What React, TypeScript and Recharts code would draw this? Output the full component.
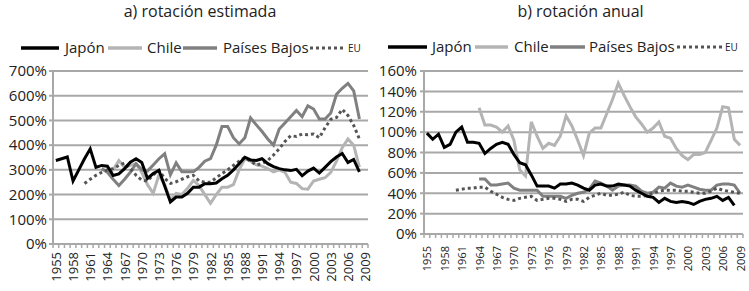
import React from "react";
import { LineChart, Line, XAxis, YAxis, CartesianGrid } from "recharts";

const years = [
  1955, 1956, 1957, 1958, 1959, 1960, 1961, 1962, 1963, 1964,
  1965, 1966, 1967, 1968, 1969, 1970, 1971, 1972, 1973, 1974,
  1975, 1976, 1977, 1978, 1979, 1980, 1981, 1982, 1983, 1984,
  1985, 1986, 1987, 1988, 1989, 1990, 1991, 1992, 1993, 1994,
  1995, 1996, 1997, 1998, 1999, 2000, 2001, 2002, 2003, 2004,
  2005, 2006, 2007, 2008, 2009,
];

// a) rotación estimada (%)
const estJapon = [
  338, 345, 352, 255, 300, 345, 385, 310, 318, 315,
  277, 284, 305, 331, 345, 330, 265, 285, 298, 235,
  170, 190, 190, 205, 230, 230, 244, 244, 247, 264,
  278, 300, 325, 351, 340, 338, 345, 325, 313, 305,
  300, 297, 302, 276, 295, 307, 287, 310, 333, 352,
  366, 330, 342, 292, null,
];
const estChile = [
  null, null, null, null, null, null, null, null, null,
  290, 300, 338, 310, 318, 325, 290, 240, 205, 280,
  240, 178, 205, 200, 225, 257, 237, 200, 165, 200,
  230, 230, 240, 300, 345, 335, 320, 315, 305, 292,
  300, 290, 250, 245, 224, 222, 255, 262, 268, 290,
  335, 390, 425, 400, 311, null,
];
const estPaisesBajos = [
  null, null, null, null, null, null, null, null,
  305, 290, 262, 237, 262, 290, 325, 300, 295, 320,
  345, 365, 280, 328, 292, 292, 292, 310, 335, 345,
  400, 475, 475, 430, 405, 430, 510, 482, 455, 425,
  400, 465, 490, 515, 540, 515, 559, 546, 506, 506,
  530, 606, 630, 650, 620, 506, null,
];
const estEU = [
  null, null, null, null, null,
  245, 262, 278, 290, 300, 305, 318, 328, 305, 278,
  258, 255, 280, 298, 265, 245, 252, 262, 272, 278,
  255, 250, 250, 268, 285, 300, 318, 335, 350, 335,
  320, 325, 338, 360, 385, 415, 438, 435, 445, 442,
  445, 430, 470, 505, 512, 545, 520, 480, 425, null,
];

// b) rotación anual (%)
const anuJapon = [
  99, 93, 98, 85, 88, 100, 105, 90, 90, 89,
  79, 84, 88, 90, 88, 78, 70, 68, 58, 47,
  47, 47, 45, 49, 49, 50, 48, 45, 43, 48,
  49, 47, 47, 49, 48, 47, 43, 40, 37, 36,
  31, 35, 32, 31, 32, 31, 29, 32, 34, 35,
  37, 33, 36, 28, null,
];
const anuChile = [
  null, null, null, null, null, null, null, null, null,
  124, 107, 107, 105, 100, 106, 92, 63, 57, 110,
  96, 84, 89, 87, 96, 116, 106, 92, 77, 99,
  104, 104, 118, 132, 148, 136, 125, 115, 108, 100,
  104, 110, 96, 94, 84, 77, 73, 78, 78, 80,
  92, 104, 125, 124, 93, 87,
];
const anuPaisesBajos = [
  null, null, null, null, null, null, null, null, null,
  54, 54, 48, 48, 49, 50, 45, 43, 43, 43,
  43, 37, 37, 37, 37, 35, 38, 40, 41, 44,
  52, 50, 47, 43, 47, 48, 48, 47, 42, 40,
  41, 46, 45, 50, 47, 46, 48, 46, 44, 43,
  43, 48, 49, 49, 48, 40,
];
const anuEU = [
  null, null, null, null, null,
  43, 44, 45, 45, 46, 46, 42, 39, 36, 34,
  33, 35, 36, 37, 33, 34, 35, 35, 34, 32,
  34, 34, 32, 36, 38, 40, 38, 38, 39, 41,
  38, 37, 37, 38, 40, 42, 43, 43, 43, 42,
  42, 41, 40, 40, 42, 45, 43, 42, 41, 40,
];

const estTicks = [0, 100, 200, 300, 400, 500, 600, 700];
const anuTicks = [0, 20, 40, 60, 80, 100, 120, 140, 160];

const FONT = "'Open Sans', sans-serif";
const GRID = "#a8a8a8";
const COLORS = { jp: "#000000", cl: "#b4b4b4", nl: "#808080", us: "#555555" };

const buildRows = (jp: any[], cl: any[], nl: any[], us: any[]) =>
  years.map((y, i) => ({ year: String(y), jp: jp[i], cl: cl[i], nl: nl[i], us: us[i] }));

const estData = buildRows(estJapon, estChile, estPaisesBajos, estEU);
const anuData = buildRows(anuJapon, anuChile, anuPaisesBajos, anuEU);

// every category gets a tick mark, every 3rd gets a rotated label
const makeTick = (step: number, fontSize: number, gap: number) => (props: any) => {
  const { x, y, payload, index } = props;
  const last = index === years.length - 1;
  return (
    <g>
      <line x1={x - step / 2} x2={x - step / 2} y1={y} y2={y + 4} stroke={GRID} strokeWidth={1.5} />
      {last && <line x1={x + step / 2} x2={x + step / 2} y1={y} y2={y + 4} stroke={GRID} strokeWidth={1.5} />}
      {index % 3 === 0 && (
        <text
          transform={`translate(${x},${y + gap}) rotate(-90)`}
          textAnchor="end"
          dominantBaseline="central"
          fontSize={fontSize}
          fontFamily={FONT}
          fill="#222"
        >
          {payload.value}
        </text>
      )}
    </g>
  );
};

const Series = () => null;

const renderLines = () => [
  <Line key="cl" dataKey="cl" stroke={COLORS.cl} strokeWidth={3} dot={false} isAnimationActive={false} />,
  <Line key="nl" dataKey="nl" stroke={COLORS.nl} strokeWidth={3} dot={false} isAnimationActive={false} />,
  <Line key="us" dataKey="us" stroke={COLORS.us} strokeWidth={3} strokeDasharray="3 3" dot={false} isAnimationActive={false} />,
  <Line key="jp" dataKey="jp" stroke={COLORS.jp} strokeWidth={3} dot={false} isAnimationActive={false} />,
];

interface LegendPos {
  lines: number[][];
  texts: number[];
  top: number;
}

const legendLabels = ["Japón", "Chile", "Países Bajos", "EU"];
const legendColors = [COLORS.jp, COLORS.cl, COLORS.nl, COLORS.us];

const ChartLegend: React.FC<LegendPos> = ({ lines, texts, top }) => (
  <>
    {lines.map(([x1, x2], i) => (
      <svg
        key={`l${i}`}
        width={x2 - x1}
        height={6}
        style={{ position: "absolute", left: x1, top: top - 3 }}
      >
        <line
          x1={0}
          x2={x2 - x1}
          y1={3}
          y2={3}
          stroke={legendColors[i]}
          strokeWidth={i === 3 ? 3 : 3.5}
          strokeDasharray={i === 3 ? "3 3" : undefined}
        />
      </svg>
    ))}
    {texts.map((x, i) => (
      <span
        key={`t${i}`}
        style={{
          position: "absolute",
          left: x,
          top: i === 3 ? top - 7 : top - 11,
          fontFamily: FONT,
          fontSize: i === 3 ? 10 : 15,
          lineHeight: i === 3 ? "14px" : "20px",
          color: "#222",
          whiteSpace: "nowrap",
        }}
      >
        {legendLabels[i]}
      </span>
    ))}
  </>
);

const titleStyle: React.CSSProperties = {
  position: "absolute",
  top: 0,
  fontFamily: FONT,
  fontSize: 16,
  lineHeight: "22px",
  color: "#222",
  textAlign: "center",
};

export default function App() {
  return (
    <div style={{ position: "absolute", left: 0, top: 0, width: 749, height: 291, background: "#fff" }}>
      <div style={{ ...titleStyle, left: 0, width: 400 }}>a) rotación estimada</div>
      <div style={{ ...titleStyle, left: 480, width: 201 }}>b) rotación anual</div>

      <ChartLegend
        top={48}
        lines={[[21, 59], [108, 142], [183, 217], [310, 343]]}
        texts={[65, 147, 223, 348]}
      />
      <ChartLegend
        top={47}
        lines={[[388, 427], [475, 508], [550, 585], [677, 723]]}
        texts={[432, 514, 589, 725]}
      />

      <div style={{ position: "absolute", left: 0, top: 0 }}>
        <LineChart width={374} height={291} data={estData} margin={{ top: 71, right: 6, bottom: 0, left: 0 }}>
          <CartesianGrid vertical={false} stroke={GRID} strokeWidth={2} />
          <XAxis
            dataKey="year"
            height={47}
            interval={0}
            tickSize={0}
            tickMargin={0}
            tickLine={false}
            padding={{ left: 2.86, right: 2.86 }}
            axisLine={{ stroke: GRID, strokeWidth: 2 }}
            tick={makeTick(315 / 55, 13, 8)}
          />
          <YAxis
            width={53}
            domain={[0, 700]}
            ticks={estTicks}
            interval={0}
            tickFormatter={(v) => `${v}%`}
            tickSize={4}
            tickMargin={2}
            axisLine={{ stroke: GRID, strokeWidth: 2 }}
            tickLine={{ stroke: GRID, strokeWidth: 2 }}
            tick={{ fontSize: 15, fontFamily: FONT, fill: "#222" }}
          />
          {renderLines()}
        </LineChart>
      </div>

      <div style={{ position: "absolute", left: 374, top: 0 }}>
        <LineChart width={375} height={291} data={anuData} margin={{ top: 71, right: 6, bottom: 0, left: 0 }}>
          <CartesianGrid vertical={false} stroke={GRID} strokeWidth={2} />
          <XAxis
            dataKey="year"
            height={57}
            interval={0}
            tickSize={0}
            tickMargin={0}
            tickLine={false}
            padding={{ left: 2.9, right: 2.9 }}
            axisLine={{ stroke: GRID, strokeWidth: 2 }}
            tick={makeTick(319 / 55, 11, 12)}
          />
          <YAxis
            width={50}
            domain={[0, 160]}
            ticks={anuTicks}
            interval={0}
            tickFormatter={(v) => `${v}%`}
            tickSize={4}
            tickMargin={3}
            axisLine={{ stroke: GRID, strokeWidth: 2 }}
            tickLine={{ stroke: GRID, strokeWidth: 2 }}
            tick={{ fontSize: 15, fontFamily: FONT, fill: "#222" }}
          />
          {renderLines()}
        </LineChart>
      </div>
    </div>
  );
}
